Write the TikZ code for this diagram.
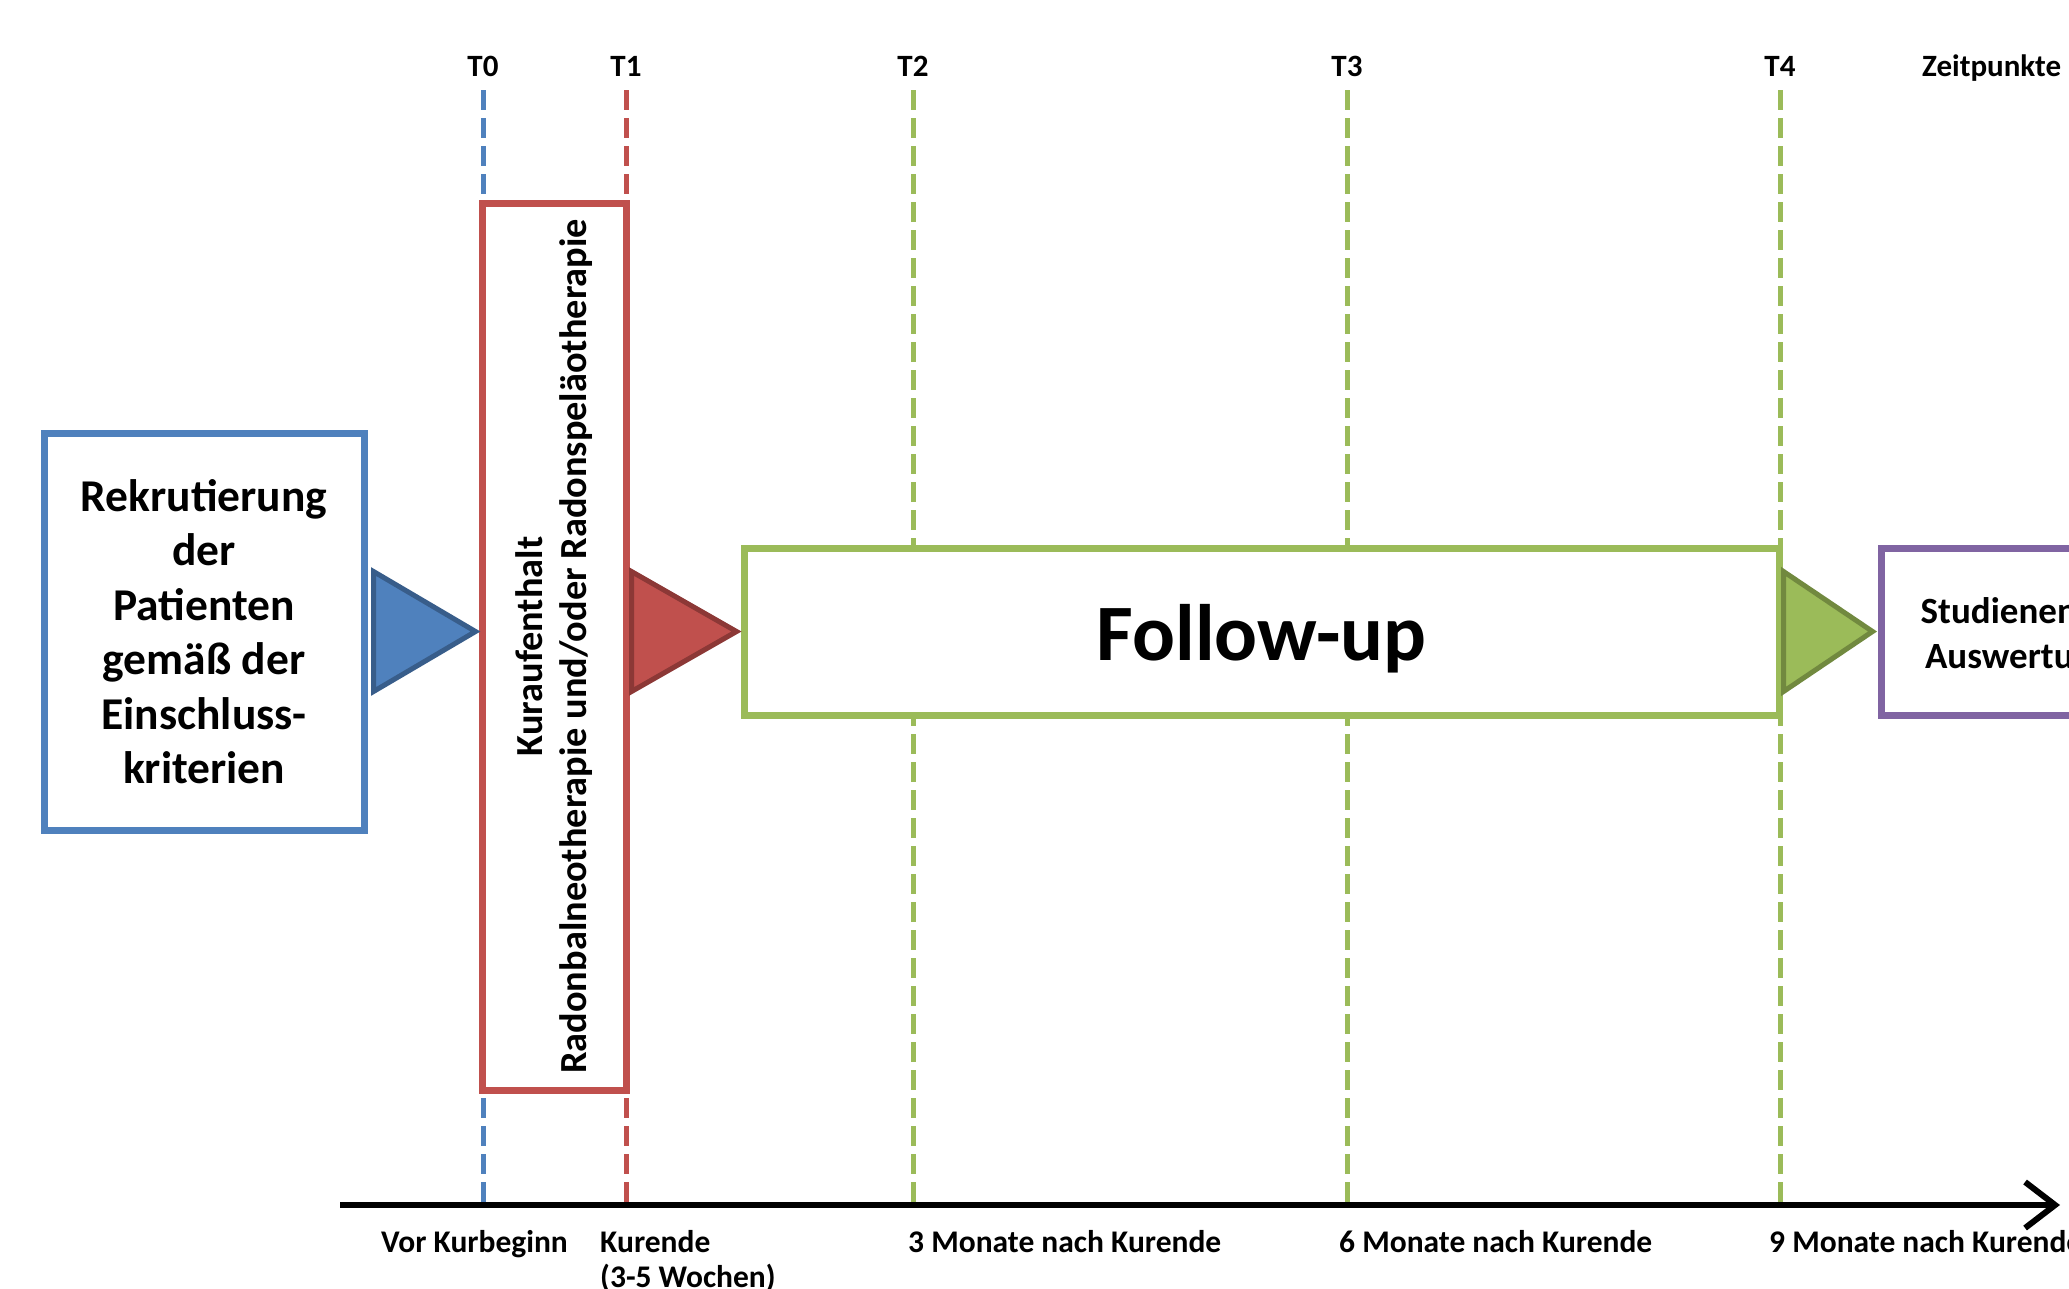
\documentclass[tikz,border=0pt]{standalone}
\usepackage{fontspec}
\setmainfont{Carlito}
\usetikzlibrary{arrows.meta,calc}
\definecolor{cblue}{HTML}{4F81BD}
\definecolor{cbluedk}{HTML}{385D8A}
\definecolor{cred}{HTML}{C0504D}
\definecolor{creddk}{HTML}{8C3836}
\definecolor{cgreen}{HTML}{9BBB59}
\definecolor{cgreendk}{HTML}{71893F}
\definecolor{cpurple}{HTML}{8064A2}
\begin{document}
\begin{tikzpicture}[x=1pt,y=-1pt,
  box/.style={draw, line width=7pt, fill=white, inner sep=0pt, rectangle},
  tline/.style={dash pattern=on 20pt off 8pt, line width=5pt},
  tri/.style={line width=5pt, line join=miter},
  toplbl/.style={font=\fontsize{31}{36}\selectfont\bfseries, inner sep=0pt, anchor=base},
  botlbl/.style={font=\fontsize{31.5}{35}\selectfont\bfseries, inner sep=0pt, anchor=north west, align=left},
  ]
\useasboundingbox (0,0) rectangle (2069,1288);
\clip (0,0) rectangle (2069,1288);
\fill[white] (0,0) rectangle (2069,1288);

% time point labels
\node[toplbl] (t0) at (483,76) {T0};
\node[toplbl] (t1) at (626,76) {T1};
\node[toplbl] (t2) at (913,76) {T2};
\node[toplbl] (t3) at (1347,76) {T3};
\node[toplbl] (t4) at (1780,76) {T4};
\node[toplbl, anchor=base west] (zp) at (1922,76) {Zeitpunkte};

% axis coordinates
\coordinate (axL) at (340,1205);
\coordinate (axR) at (2060,1205);

% dashed time lines
\draw[tline, cblue]  ($(t0.south)+(0,14)$) -- (t0.south |- axL);
\draw[tline, cred]   ($(t1.south)+(0,14)$) -- (t1.south |- axL);
\draw[tline, cgreen] ($(t2.south)+(0,14)$) -- (t2.south |- axL);
\draw[tline, cgreen] ($(t3.south)+(0,14)$) -- (t3.south |- axL);
\draw[tline, cgreen] ($(t4.south)+(0,14)$) -- (t4.south |- axL);

% boxes
\node[box, draw=cblue, minimum width=320pt, minimum height=397pt,
      align=center, font=\fontsize{45.5}{54.5}\selectfont\bfseries] (rek) at (204,631.5)
      {Rekrutierung\\der\\Patienten\\gemäß der\\Einschluss-\\kriterien};
\node[box, draw=cred, minimum width=144pt, minimum height=887pt] (kur) at (554,646.5) {};
\node[rotate=90, align=center, inner sep=0pt,
      font=\fontsize{38.3}{44}\selectfont\bfseries] (kurtxt) at (kur.center)
      {Kuraufenthalt\\Radonbalneotherapie und/oder Radonspeläotherapie};
\node[box, draw=cgreen, minimum width=1035pt, minimum height=167pt,
      font=\fontsize{80}{90}\selectfont\bfseries] (fu) at (1261.5,631.5)
      {\raisebox{-7pt}[\height][\depth]{Follow-up}};
\node[box, draw=cpurple, minimum width=274pt, minimum height=167pt, align=center,
      font=\fontsize{37}{45}\selectfont\bfseries] (se) at (2018,631.5)
      {\raisebox{-5pt}[\height][\depth]{Studienende}\\\raisebox{-5pt}[\height][\depth]{Auswertung}};

% arrow triangles
\filldraw[tri, fill=cblue, draw=cbluedk]
  ($(rek.east)+(6,-60)$) -- ($(rek.east -| kur.west)+(-3,0)$) -- ($(rek.east)+(6,60)$) -- cycle;
\filldraw[tri, fill=cred, draw=creddk]
  ($(kur.east |- fu.west)+(2,-60)$) -- ($(fu.west)+(-4,0)$) -- ($(kur.east |- fu.west)+(2,60)$) -- cycle;
\filldraw[tri, fill=cgreen, draw=cgreendk]
  ($(fu.east)+(1,-60)$) -- ($(se.west)+(-5,0)$) -- ($(fu.east)+(1,60)$) -- cycle;

% time axis
\draw[line width=6pt, -{Straight Barb[length=30pt, width=46pt, line width=6pt]}] (axL) -- (axR);

% bottom labels
\node[botlbl] (l0) at (381,1230) {Vor Kurbeginn};
\node[botlbl] (l1) at (600,1230) {Kurende\\(3-5 Wochen)};
\node[botlbl] (l2) at (908,1230) {3 Monate nach Kurende};
\node[botlbl] (l3) at (1339,1230) {6 Monate nach Kurende};
\node[botlbl] (l4) at (1769,1230) {9 Monate nach Kurende};
\end{tikzpicture}
\end{document}
